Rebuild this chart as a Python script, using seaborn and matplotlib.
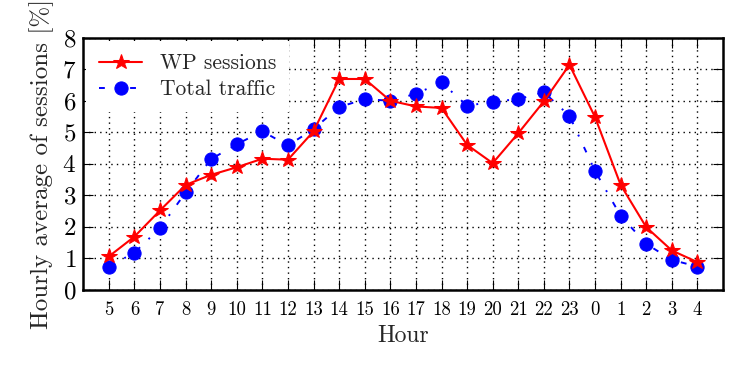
import matplotlib
matplotlib.use("Agg")
import matplotlib.pyplot as plt
import seaborn as sns
import numpy as np
import pandas as pd

hours = [5, 6, 7, 8, 9, 10, 11, 12, 13, 14, 15, 16, 17, 18, 19, 20, 21, 22, 23, 0, 1, 2, 3, 4]
wp_sessions = [1.06, 1.69, 2.52, 3.33, 3.65, 3.89, 4.16, 4.13, 5.03, 6.69, 6.69, 6.00,
               5.82, 5.77, 4.60, 4.02, 4.97, 5.98, 7.14, 5.48, 3.33, 1.99, 1.25, 0.88]
total_traffic = [0.74, 1.18, 1.96, 3.09, 4.15, 4.62, 5.03, 4.58, 5.10, 5.80, 6.05, 6.00,
                 6.22, 6.58, 5.84, 5.97, 6.05, 6.27, 5.52, 3.77, 2.35, 1.46, 0.95, 0.74]

sns.set_style("ticks")
plt.rcParams['font.family'] = ['cmr10', 'DejaVu Serif']
plt.rcParams['mathtext.fontset'] = 'cm'
plt.rcParams['axes.formatter.use_mathtext'] = True

pos = np.arange(len(hours))
df = pd.DataFrame({"pos": pos, "wp": wp_sessions, "tt": total_traffic})

fig = plt.figure(figsize=(7.5, 3.75), dpi=100)
ax = fig.add_axes([0.111, 0.227, 0.853, 0.6725])

sns.lineplot(data=df, x="pos", y="wp", ax=ax, color="red", linestyle="-", linewidth=1.5,
             marker="*", markersize=11.5, markeredgecolor="red", label="WP sessions", sort=False,
             zorder=3)
sns.lineplot(data=df, x="pos", y="tt", ax=ax, color="blue", linestyle=(0, (3, 6, 1, 6)),
             linewidth=1.4, marker="o", markersize=9.5, markeredgecolor="blue",
             label="Total traffic", sort=False, zorder=2)

ax.set_xlim(-1, 24)
ax.set_ylim(0, 8)
ax.set_xticks(pos)
ax.set_xticklabels([str(h) for h in hours], fontsize=13.5)
ax.set_yticks(range(0, 9))
ax.tick_params(axis='y', labelsize=18, pad=5)
ax.tick_params(direction='in', top=True, right=True, length=7, width=0.8, colors='black')
ax.tick_params(axis='x', pad=8)
ax.grid(True, color='black', linestyle=(0, (1, 3)), linewidth=1.0)
for s in ax.spines.values():
    s.set_linewidth(1.8)
    s.set_color('black')

ax.set_xlabel("Hour", fontsize=17, labelpad=4)
ax.set_ylabel("Hourly average of sessions [%]", fontsize=18, labelpad=6)

leg = ax.legend(loc="upper left", bbox_to_anchor=(0.0, 1.0), frameon=True, facecolor="white",
                edgecolor="none", framealpha=1.0, fancybox=False, fontsize=15.5,
                handlelength=2.0, handletextpad=0.8, borderaxespad=0.15, borderpad=0.6,
                labelspacing=0.3)
leg.set_zorder(5)
fig.savefig("out.png", dpi=100)
